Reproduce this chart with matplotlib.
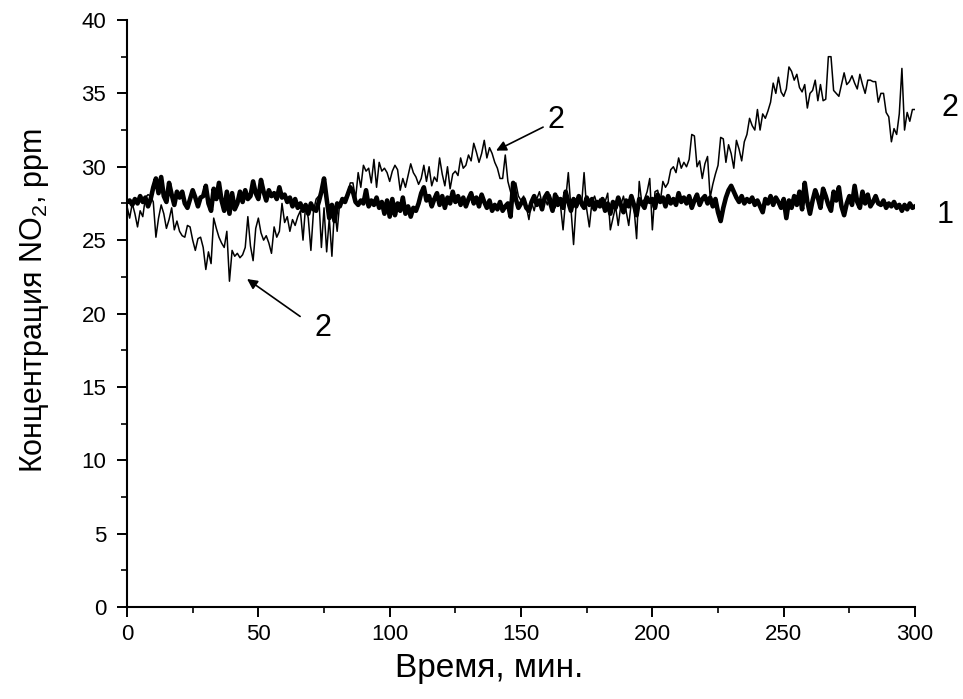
import numpy as np
import matplotlib
matplotlib.use("Agg")
import matplotlib.pyplot as plt
from matplotlib.ticker import MultipleLocator

plt.rcParams['font.family'] = ['Liberation Sans', 'DejaVu Sans']
plt.rcParams['mathtext.fontset'] = 'custom'
plt.rcParams['mathtext.rm'] = 'Liberation Sans'
plt.rcParams['mathtext.it'] = 'Liberation Sans:italic'

# Time axis, one reading per minute
time_min = np.arange(0, 301)

# Curve 1: NO2 concentration, reference run (ppm)
conc_1 = [
    27.6, 27.7, 27.4, 27.8, 27.5, 28.0, 27.6, 27.9, 27.3, 27.8,
    28.6, 29.2, 28.2, 29.3, 28.0, 27.6, 28.9, 28.1, 27.4, 28.3,
    27.9, 28.3, 27.5, 27.2, 27.8, 28.4, 27.9, 27.3, 27.9, 28.0,
    28.7, 27.5, 27.0, 28.5, 27.8, 28.9, 27.7, 27.0, 28.3, 26.8,
    28.2, 27.1, 27.5, 28.3, 27.6, 28.4, 27.8, 28.0, 29.0, 28.2,
    27.8, 29.1, 28.3, 27.7, 28.4, 28.0, 28.2, 27.8, 28.6, 27.9,
    28.1, 27.6, 27.9, 27.3, 27.8, 27.2, 27.5, 27.0, 27.4, 26.8,
    27.5, 27.1, 27.0, 27.6, 28.3, 29.2, 27.8, 26.5, 27.4, 26.3,
    27.5, 27.3, 27.8, 27.6, 28.1, 28.6, 28.3, 27.6, 27.4, 27.7,
    27.5, 28.4, 27.3, 27.7, 27.4, 27.9, 27.2, 27.6, 26.8, 27.7,
    26.6, 27.8, 26.7, 27.5, 27.0, 27.9, 26.8, 27.3, 26.6, 27.2,
    27.0, 27.5, 28.2, 28.6, 27.7, 28.0, 27.3, 27.8, 28.2, 27.4,
    28.0, 27.2, 27.9, 27.5, 28.3, 27.6, 28.0, 27.4, 27.9, 27.3,
    27.8, 28.2, 27.5, 27.9, 27.3, 28.1, 27.6, 27.2, 27.7, 27.0,
    27.4, 27.1, 27.6, 27.0, 27.3, 27.5, 26.6, 28.9, 27.8, 27.2,
    27.5, 27.8, 27.2, 27.0, 27.6, 28.0, 27.4, 27.7, 27.1, 27.9,
    28.2, 27.6, 27.0, 28.1, 27.4, 27.8, 27.2, 28.3, 27.6, 27.0,
    27.8, 27.3, 28.0, 27.5, 27.2, 27.9, 27.4, 27.8, 27.1, 27.6,
    27.3, 27.8, 27.0, 27.5, 26.8, 27.6, 27.2, 27.9, 27.4, 26.9,
    27.7, 27.3, 28.0, 27.4, 26.7, 27.8, 27.5, 27.2, 27.9, 27.6,
    27.8, 27.2, 28.1, 27.6, 27.9, 27.3, 28.0, 27.5, 27.8, 27.4,
    28.2, 27.6, 27.9, 27.5, 28.0, 27.2, 27.7, 28.1, 27.4, 27.8,
    28.0, 27.5, 27.9, 27.3, 27.8, 26.9, 26.3, 27.2, 27.9, 28.4,
    28.7, 28.3, 27.9, 27.6, 28.0, 27.5, 27.8, 27.6, 27.9, 27.4,
    27.7, 27.3, 26.9, 27.8, 27.5, 28.0, 27.4, 27.9, 27.6, 27.2,
    27.8, 26.5, 27.7, 27.2, 28.0, 27.4, 28.3, 27.1, 28.9, 27.6,
    26.8, 27.7, 28.4, 27.9, 27.2, 28.5, 28.0, 27.4, 27.0, 28.3,
    27.7, 28.6, 27.3, 26.7, 27.5, 28.0, 27.4, 28.7, 27.6, 27.2,
    28.3, 27.5, 28.1, 27.3, 27.6, 28.0, 27.5, 27.4, 27.7, 27.2,
    27.5, 27.3, 27.6, 27.2, 27.4, 27.0, 27.4, 27.1, 27.5, 27.2,
    27.3,
]

# Curve 2: NO2 concentration, second run (ppm)
conc_2 = [
    27.3, 26.5, 27.5, 26.8, 25.9, 27.0, 26.6, 27.9, 28.1, 28.0,
    27.6, 25.2, 26.5, 27.4, 26.8, 25.8, 26.4, 27.2, 25.7, 26.3,
    25.6, 25.3, 25.2, 26.0, 25.9, 25.0, 24.3, 25.1, 25.2, 24.5,
    23.0, 24.2, 23.4, 26.5, 25.8, 25.2, 24.8, 24.5, 25.6, 22.2,
    24.3, 23.9, 24.1, 23.8, 24.0, 24.5, 26.6, 24.6, 23.6, 25.8,
    26.5, 25.5, 25.0, 25.3, 24.8, 24.1, 25.9, 25.2, 25.6, 27.5,
    26.2, 26.6, 25.6, 26.4, 26.0, 26.6, 27.0, 25.0, 27.4, 26.5,
    24.3, 27.0, 27.8, 28.0, 24.5, 27.2, 24.2, 26.5, 23.9, 27.2,
    25.6, 27.6, 27.7, 27.9, 28.2, 28.9, 28.9, 27.8, 29.6, 28.6,
    30.1, 29.7, 29.9, 28.9, 30.5, 28.6, 30.3, 29.7, 29.9, 29.6,
    29.0, 29.7, 30.1, 29.8, 28.4, 29.2, 28.6, 29.4, 30.2, 29.6,
    29.3, 28.8, 29.2, 30.1, 29.0, 30.0, 28.7, 29.3, 29.0, 30.6,
    29.5, 28.7, 30.0, 28.5, 29.5, 29.7, 29.4, 30.6, 29.9, 30.1,
    30.8, 30.4, 31.6, 31.0, 30.3, 30.9, 31.8, 30.6, 31.3, 30.9,
    30.3, 29.9, 29.2, 29.2, 30.8, 29.0, 28.3, 27.7, 28.9, 28.0,
    27.7, 28.0, 27.3, 26.4, 27.6, 27.0, 27.8, 28.3, 27.5, 27.9,
    27.4, 28.1, 27.6, 27.2, 28.0, 27.4, 25.7, 27.8, 29.6, 27.2,
    24.7, 27.5, 27.9, 27.3, 29.6, 27.1, 25.9, 27.6, 28.0, 27.4,
    27.8, 27.2, 27.6, 28.2, 25.7, 26.5, 27.3, 26.0, 27.4, 28.0,
    27.0, 26.0, 27.6, 27.2, 25.1, 29.0, 27.5, 27.8, 28.3, 29.2,
    25.7, 28.3, 28.4, 27.6, 29.0, 28.6, 28.9, 29.8, 30.0, 29.6,
    30.6, 29.9, 30.3, 30.0, 30.5, 32.2, 32.1, 30.0, 30.4, 29.2,
    30.2, 30.7, 27.9, 28.8, 29.5, 30.1, 32.0, 31.9, 30.3, 31.5,
    30.9, 29.9, 31.8, 31.2, 30.4, 31.7, 32.2, 33.3, 32.8, 32.5,
    33.9, 32.5, 33.6, 33.3, 33.8, 34.4, 35.7, 35.0, 36.1, 35.1,
    34.8, 35.3, 36.8, 36.5, 35.9, 36.3, 35.4, 35.1, 35.6, 34.0,
    35.0, 35.2, 35.9, 34.5, 35.6, 34.5, 34.6, 37.5, 37.5, 35.2,
    35.0, 34.8, 35.6, 36.4, 35.6, 35.8, 36.2, 35.7, 35.3, 36.3,
    35.6, 35.0, 35.9, 35.9, 35.8, 35.8, 34.4, 35.0, 35.0, 33.7,
    33.4, 31.7, 32.6, 32.2, 33.6, 36.7, 32.5, 33.7, 33.1, 33.9,
    33.9,
]

fig = plt.figure(figsize=(9.63, 6.99), dpi=100)
ax = fig.add_axes([0.1319, 0.1316, 0.8183, 0.8398])

ax.plot(time_min, conc_2, color='black', lw=1.1, zorder=2)
ax.plot(time_min, conc_1, color='black', lw=3.3, zorder=3)

ax.set_xlim(0, 300)
ax.set_ylim(0, 40)
ax.xaxis.set_major_locator(MultipleLocator(50))
ax.xaxis.set_minor_locator(MultipleLocator(25))
ax.yaxis.set_major_locator(MultipleLocator(5))
ax.yaxis.set_minor_locator(MultipleLocator(2.5))

for side in ('top', 'right'):
    ax.spines[side].set_visible(False)
for side in ('left', 'bottom'):
    ax.spines[side].set_linewidth(1.5)
ax.tick_params(which='major', direction='out', length=7, width=1.4,
               labelsize=16)
ax.tick_params(axis='y', which='major', pad=8)
ax.tick_params(axis='x', which='major', pad=5)
ax.tick_params(which='minor', direction='out', length=4, width=1.2)

ax.set_xlabel('Время, мин.', fontsize=24, va='center')
ax.xaxis.set_label_coords(0.459, -0.104)
ax.set_ylabel('Концентрация NO$_{\\rm 2}$, ppm', fontsize=22, va='center')
ax.yaxis.set_label_coords(-0.117, 0.523)

# Curve markers and pointers
ax.annotate('', xy=(140.5, 31.1), xytext=(158.4, 32.7),
            arrowprops=dict(arrowstyle='-|>', color='black', lw=1.2,
                            mutation_scale=15, shrinkA=0, shrinkB=0))
ax.text(163.3, 33.2, '2', fontsize=22, ha='center', va='center')
ax.annotate('', xy=(45.7, 22.35), xytext=(65.9, 19.8),
            arrowprops=dict(arrowstyle='-|>', color='black', lw=1.2,
                            mutation_scale=15, shrinkA=0, shrinkB=0))
ax.text(74.6, 19.0, '2', fontsize=22, ha='center', va='center')
ax.text(313.3, 34.0, '2', fontsize=22, ha='center', va='center', clip_on=False)
ax.text(311.4, 26.7, '1', fontsize=22, ha='center', va='center', clip_on=False)

fig.savefig('out.png', dpi=100)
